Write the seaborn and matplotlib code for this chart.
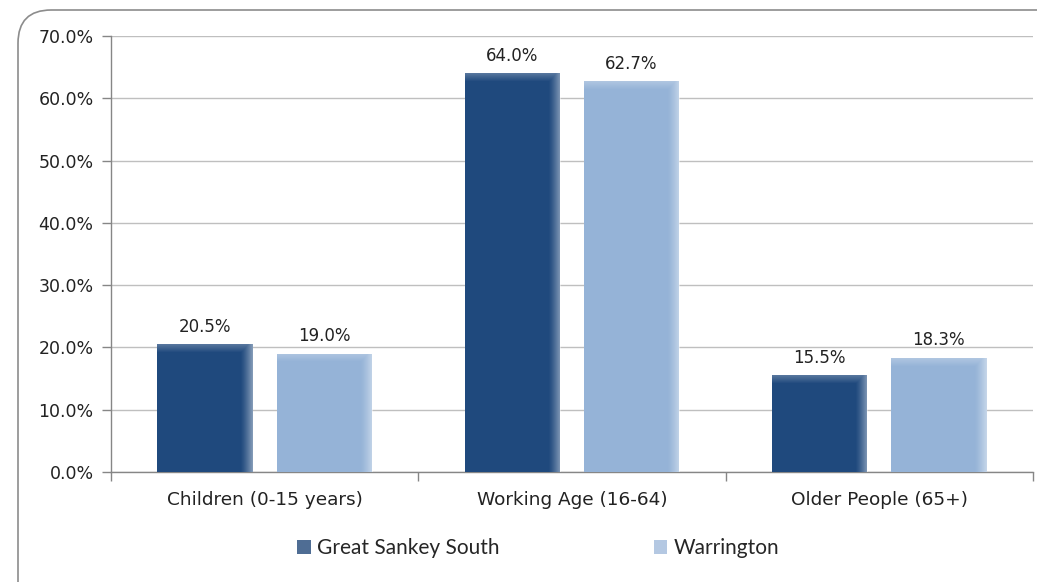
import numpy as np
import pandas as pd
import matplotlib.pyplot as plt
from matplotlib.patches import FancyBboxPatch, Patch
from matplotlib.ticker import FixedLocator, PercentFormatter
import seaborn as sns

# data
categories = ["Children (0-15 years)", "Working Age (16-64)", "Older People (65+)"]
areas = ["Great Sankey South", "Warrington"]
great_sankey_south = [20.5, 64.0, 15.5]
warrington = [19.0, 62.7, 18.3]
y_ticks = [0, 10, 20, 30, 40, 50, 60, 70]

DARK = "#1F497D"
LIGHT = "#95B3D7"

df = pd.DataFrame({
    "group": categories * 2,
    "area": [areas[0]] * 3 + [areas[1]] * 3,
    "share": great_sankey_south + warrington,
})

sns.set_style("white")
plt.rcParams["font.family"] = ["DejaVu Sans"]

fig = plt.figure(figsize=(10.37, 5.82), dpi=100)
ax = fig.add_axes([111 / 1037, 1 - 472 / 582, (1033 - 111) / 1037, (472 - 36) / 582])

sns.barplot(data=df, x="group", y="share", hue="area", order=categories,
            hue_order=areas, palette=[DARK, LIGHT], saturation=1,
            width=0.775, gap=0.2, edgecolor="none", legend=False,
            ax=ax, zorder=3)

# excel-ish gradient sheen on every bar (right edge + top)
px_per_x = (1033 - 111) / 3.0
px_per_y = (472 - 36) / 70.0
for bar in list(ax.patches):
    x0, y0 = bar.get_x(), bar.get_y()
    w, h = bar.get_width(), bar.get_height()
    wpx = max(int(w * px_per_x), 2)
    hpx = max(int(h * px_per_y), 2)
    xx = np.arange(wpx)[None, :]
    yy = np.arange(hpx)[:, None]
    right = np.clip((xx - (wpx - 13)) / 13.0, 0, 1) ** 1.3 * 0.5
    top = np.clip(1 - yy / 8.0, 0, 1) * 0.25
    alpha = np.maximum(right, top)
    img = np.ones((hpx, wpx, 4))
    img[..., 3] = alpha
    im = ax.imshow(img, extent=[x0, x0 + w, y0, y0 + h], aspect="auto",
                   origin="upper", zorder=4, interpolation="bilinear")
    im.set_clip_path(bar)

# value labels
for bar in ax.patches:
    ax.text(bar.get_x() + bar.get_width() / 2, bar.get_height() + 1.4,
            f"{bar.get_height():.1f}%", ha="center", va="bottom",
            fontsize=12, color="#222222", zorder=5)

ax.set_xlim(-0.5, 2.5)
ax.set_ylim(0, 70)
ax.yaxis.set_major_locator(FixedLocator(y_ticks))
ax.yaxis.set_major_formatter(PercentFormatter(decimals=1))
ax.grid(axis="y", color="#BFBFBF", linewidth=1.0, zorder=0)
ax.set_axisbelow(True)
ax.set_xlabel("")
ax.set_ylabel("")

for side in ["top", "right"]:
    ax.spines[side].set_visible(False)
for side in ["left", "bottom"]:
    ax.spines[side].set_color("#868686")
    ax.spines[side].set_linewidth(1.0)

ax.tick_params(axis="y", length=6.5, width=1, color="#868686", direction="out",
               left=True, labelsize=12.5, labelcolor="#222222", pad=6)
ax.tick_params(axis="x", which="major", length=0, labelsize=13.3,
               labelcolor="#222222", pad=14)
ax.xaxis.set_minor_locator(FixedLocator([-0.5, 0.5, 1.5, 2.5]))
ax.tick_params(axis="x", which="minor", length=6.5, width=1, color="#868686",
               direction="out", bottom=True)

handles = [Patch(facecolor="#4F6D94", edgecolor="none"),
           Patch(facecolor="#B4C8E2", edgecolor="none")]
fig.legend(handles, areas, loc="center", bbox_to_anchor=(0.519, 1 - 548 / 582),
           ncol=2, frameon=False, handlelength=0.65, handleheight=0.65,
           handletextpad=0.3, columnspacing=7.4,
           prop={"family": "Lato", "size": 15})

# rounded chart-area border like the original
frame = FancyBboxPatch((18 / 1037, -0.2), 1.2, 1 - 10 / 582 + 0.2,
                       boxstyle="round,pad=0,rounding_size=0.032",
                       transform=fig.transFigure, fill=False,
                       edgecolor="#8C8C8C", linewidth=1.2, zorder=-1,
                       mutation_aspect=1037 / 582)
fig.patches.append(frame)

fig.savefig("out.png", dpi=100, facecolor="white")
